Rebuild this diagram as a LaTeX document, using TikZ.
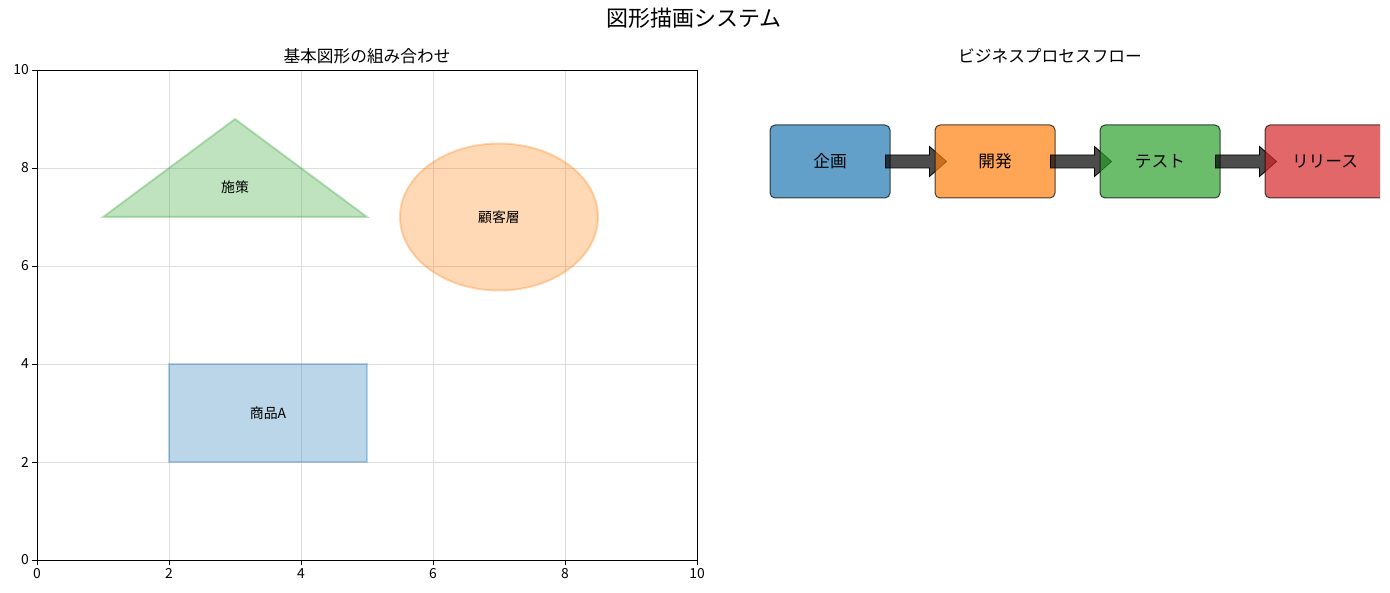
\documentclass[tikz,border=0pt]{standalone}
\usepackage{fontspec}
\setmainfont{Noto Sans CJK JP}
\definecolor{tabblue}{HTML}{1F77B4}
\definecolor{taborange}{HTML}{FF7F0E}
\definecolor{tabgreen}{HTML}{2CA02C}
\definecolor{tabred}{HTML}{D62728}
\definecolor{gridc}{RGB}{222,222,222}
\tikzset{
  gridline/.style={draw=gridc, line width=0.8pt},
  spine/.style={draw=black, line width=0.9pt},
  tickmark/.style={draw=black, line width=0.9pt},
  ticklab/.style={inner sep=0pt, font=\fontsize{13.9}{16}\selectfont},
  shapelab/.style={inner sep=0pt, font=\fontsize{13.9}{16}\selectfont},
  axtitle/.style={inner sep=0pt, font=\fontsize{16.7}{20}\selectfont},
  softshape/.style={fill=#1, draw=#1, fill opacity=0.3, draw opacity=0.3, line width=2pt},
  flowbox/.style={fill=#1, fill opacity=0.7, draw=black, draw opacity=0.7, line width=1pt,
     rounded corners=5pt, minimum width=120pt, minimum height=73pt, inner sep=0pt,
     text opacity=1, font=\fontsize{16.7}{20}\selectfont},
  fatarrow/.style={fill=black, fill opacity=0.7, draw=black, line width=0.8pt, line join=miter}
}
\begin{document}
\begin{tikzpicture}[x=1pt,y=-1pt]
\useasboundingbox (0,0) rectangle (1390,593);
\node[inner sep=0pt, font=\fontsize{22}{26}\selectfont] (sup) at (694,18) {図形描画システム};

% ---------- left axes ----------
\node[axtitle] (ltitle) at (367,56) {基本図形の組み合わせ};
\begin{scope}[shift={(37,560)}, x=66pt, y=49pt]
  \foreach \i in {2,4,6,8} {
    \draw[gridline] (\i,0) -- (\i,10);
    \draw[gridline] (0,\i) -- (10,\i);
  }
  % shapes
  \draw[softshape=tabgreen] (1,7) -- (3,9) -- (5,7) -- cycle;
  \draw[softshape=taborange] (7,7) ellipse [x radius=1.5, y radius=1.5];
  \draw[softshape=tabblue] (2,2) rectangle (5,4);
  \node[shapelab] (lab1) at (3,7.6) {施策};
  \node[shapelab] (lab2) at (7,7) {顧客層};
  \node[shapelab] (lab3) at (3.5,3) {商品A};
  % spines
  \draw[spine] (0,0) rectangle (10,10);
  \foreach \i in {0,2,4,6,8,10} {
    \draw[tickmark] (\i,0) -- ++(0,-5pt);
    \node[ticklab, anchor=north] (xt\i) at ([yshift=-8pt]\i,0) {\i};
    \draw[tickmark] (0,\i) -- ++(-5pt,0);
    \node[ticklab, anchor=east] (yt\i) at ([xshift=-8pt]0,\i) {\i};
  }
\end{scope}

% ---------- right panel ----------
\node[axtitle] (rtitle) at (1050,56) {ビジネスプロセスフロー};
\begin{scope}
  \clip (720,0) rectangle (1380,593);
  \node[flowbox=tabblue] (b1) at (830,161.5) {企画};
  \draw[fatarrow] ([xshift=-5pt]b1.east) ++(0,-6.5) -- ++(44,0) -- ++(0,-8.5) -- ++(17,15) -- ++(-17,15) -- ++(0,-8.5) -- ++(-44,0) -- cycle;
  \node[flowbox=taborange] (b2) at (995,161.5) {開発};
  \draw[fatarrow] ([xshift=-5pt]b2.east) ++(0,-6.5) -- ++(44,0) -- ++(0,-8.5) -- ++(17,15) -- ++(-17,15) -- ++(0,-8.5) -- ++(-44,0) -- cycle;
  \node[flowbox=tabgreen] (b3) at (1160,161.5) {テスト};
  \draw[fatarrow] ([xshift=-5pt]b3.east) ++(0,-6.5) -- ++(44,0) -- ++(0,-8.5) -- ++(17,15) -- ++(-17,15) -- ++(0,-8.5) -- ++(-44,0) -- cycle;
  \node[flowbox=tabred] (b4) at (1325,161.5) {リリース};
\end{scope}
\end{tikzpicture}
\end{document}
